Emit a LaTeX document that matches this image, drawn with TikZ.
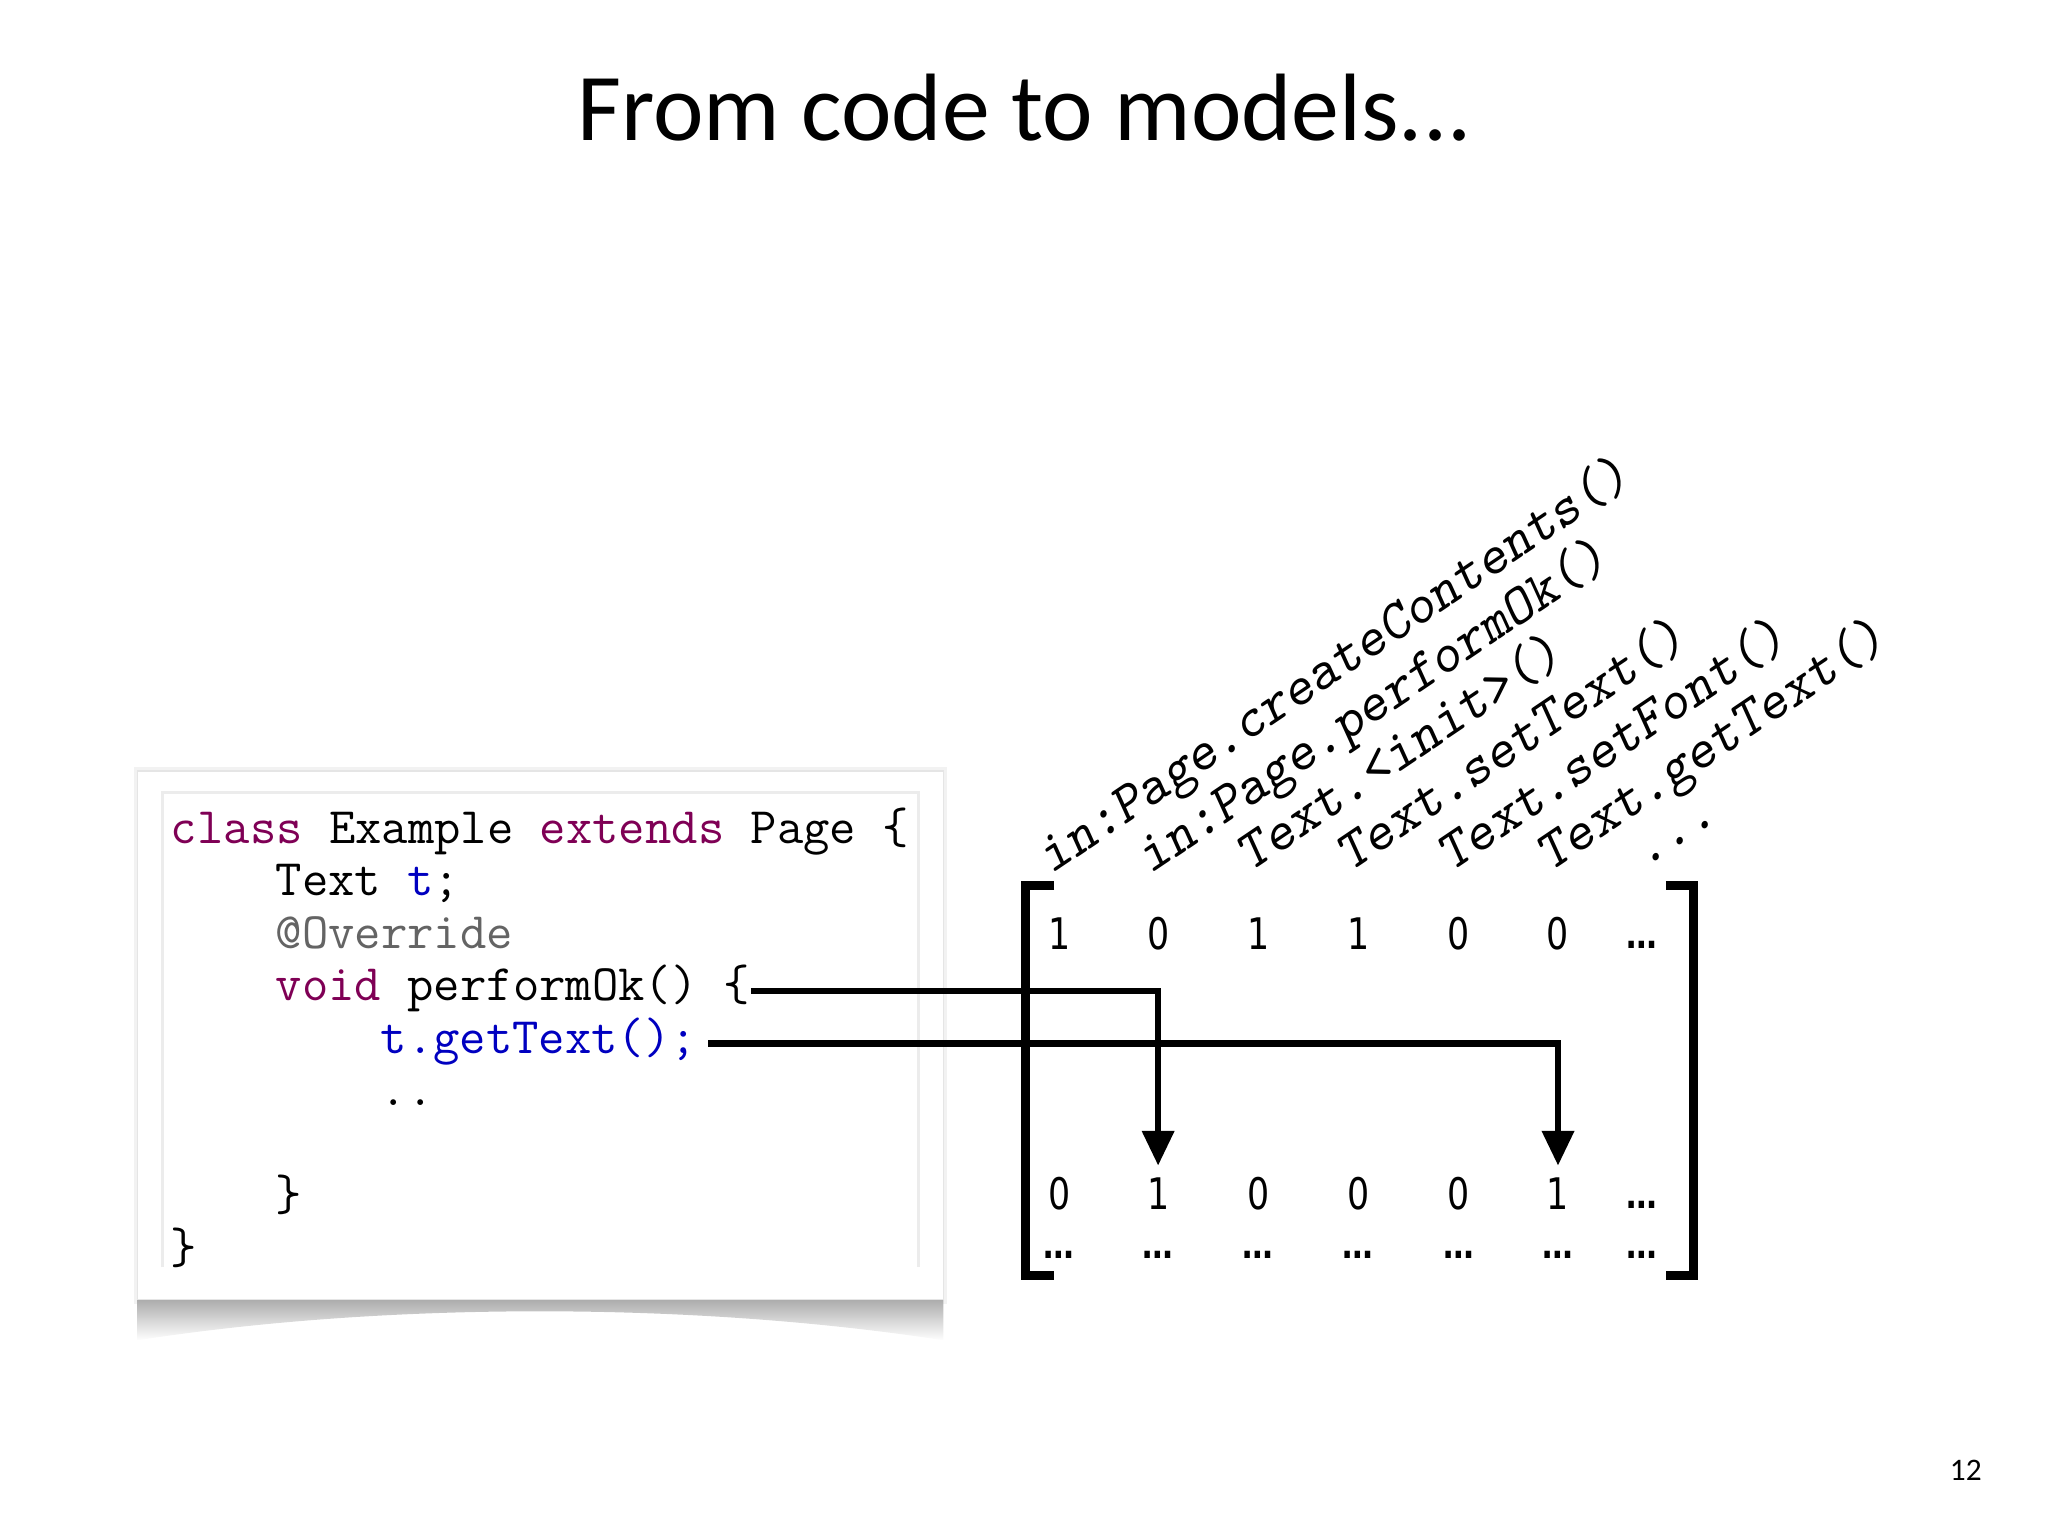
\documentclass[tikz,border=0pt]{standalone}
\usepackage{xcolor}
\usepackage{fontspec}
\setmainfont{Carlito}
\newfontfamily\cellfont{DejaVu Sans}[FakeStretch=0.8]
\usepackage{tikz}
\usetikzlibrary{arrows.meta}

\definecolor{keyword}{HTML}{7F0055}
\definecolor{field}{HTML}{0000C0}
\definecolor{annot}{HTML}{646464}

\tikzset{
    codeline/.style={anchor=base west, inner sep=0pt,
        font=\ttfamily\fontsize{14.7}{16}\selectfont},
    method/.style={anchor=base west, inner sep=0pt, rotate=34,
        font=\ttfamily\slshape\fontsize{16}{18}\selectfont},
    cell/.style={anchor=base, font=\cellfont\fontsize{12.5}{15}\selectfont},
    celldots/.style={anchor=base, font=\cellfont\bfseries\fontsize{11}{12}\selectfont},
    link/.style={line width=1.8pt, -{Triangle[width=9pt,length=10pt]}},
    bracket/.style={line width=2.6pt}
}

\begin{document}
\begin{tikzpicture}[x=0.01cm, y=-0.01cm]
        \useasboundingbox (0, 0) rectangle (2069, 1552);

        \node[anchor=base, font=\fontsize{27.5}{30}\selectfont] (title)
            at (1035, 142) {From code to models...};

        % code box with its shadow
        \fill[gray!10] (135, 775) rectangle (957, 1317);
        \shade[top color=gray!65, bottom color=white]
            (139, 1313) -- (953, 1313) -- (953, 1354)
            .. controls (700, 1315) and (390, 1315) .. (139, 1354) -- cycle;
        \filldraw[fill=white, draw=gray!20] (139, 779) rectangle (953, 1313);
        \draw[gray!15, line width=0.8pt] (164, 1280) -- (164, 801)
            -- (928, 801) -- (928, 1280);

        \node[codeline] (cline1) at (172, 852)
            {\textcolor{keyword}{class} Example \textcolor{keyword}{extends} Page \{};
        \node[codeline] (cline2) at (278, 905) {Text \textcolor{field}{t};};
        \node[codeline, text=annot] (cline3) at (278, 958) {@Override};
        \node[codeline] (perf) at (278, 1011)
            {\textcolor{keyword}{void} performOk() \{};
        \node[codeline, text=field] (get) at (384, 1064) {t.getText();};
        \node[codeline] (cline6) at (384, 1117) {..};
        \node[codeline] (cline7) at (278, 1223) {\}};
        \node[codeline] (cline8) at (172, 1276) {\}};

        % column labels
        \node[method] (m1) at (1062, 884) {in:Page.createContents()};
        \node[method] (m2) at (1162, 884) {in:Page.performOk()};
        \node[method] (m3) at (1263, 882) {Text.<init>()};
        \node[method] (m4) at (1364, 882) {Text.setText()};
        \node[method] (m5) at (1466, 882) {Text.setFont()};
        \node[method] (m6) at (1566, 882) {Text.getText()};
        \node[method] (m7) at (1662, 878) {...};

        % matrix
        \draw[bracket] (1065, 895) -- (1036, 895) -- (1036, 1289) -- (1065, 1289);
        \draw[bracket] (1683, 895) -- (1711, 895) -- (1711, 1289) -- (1683, 1289);

        \node[cell] (a1) at (1070, 959) {1};
        \node[cell] (a2) at (1170, 959) {0};
        \node[cell] (a3) at (1271, 959) {1};
        \node[cell] (a4) at (1372, 959) {1};
        \node[cell] (a5) at (1474, 959) {0};
        \node[cell] (a6) at (1574, 959) {0};
        \node[celldots] (a7) at (1659, 958) {…};

        \node[cell] (b1) at (1070, 1222) {0};
        \node[cell] (b2) at (1170, 1222) {1};
        \node[cell] (b3) at (1271, 1222) {0};
        \node[cell] (b4) at (1372, 1222) {0};
        \node[cell] (b5) at (1474, 1222) {0};
        \node[cell] (b6) at (1574, 1222) {1};
        \node[celldots] (b7) at (1659, 1221) {…};

        \node[celldots] (c1) at (1070, 1271) {…};
        \node[celldots] (c2) at (1170, 1271) {…};
        \node[celldots] (c3) at (1271, 1271) {…};
        \node[celldots] (c4) at (1372, 1271) {…};
        \node[celldots] (c5) at (1474, 1271) {…};
        \node[celldots] (c6) at (1574, 1271) {…};
        \node[celldots] (c7) at (1659, 1271) {…};

        % calls found in performOk
        \draw[link] ([yshift=2.7pt]perf.base east) -| (b2.north);
        \draw[link] ([xshift=3pt, yshift=2.8pt]get.base east) -| (b6.north);

        \node[font=\fontsize{9}{10}\selectfont] (pagenum) at (1986, 1485) {12};
    \end{tikzpicture}
\end{document}
